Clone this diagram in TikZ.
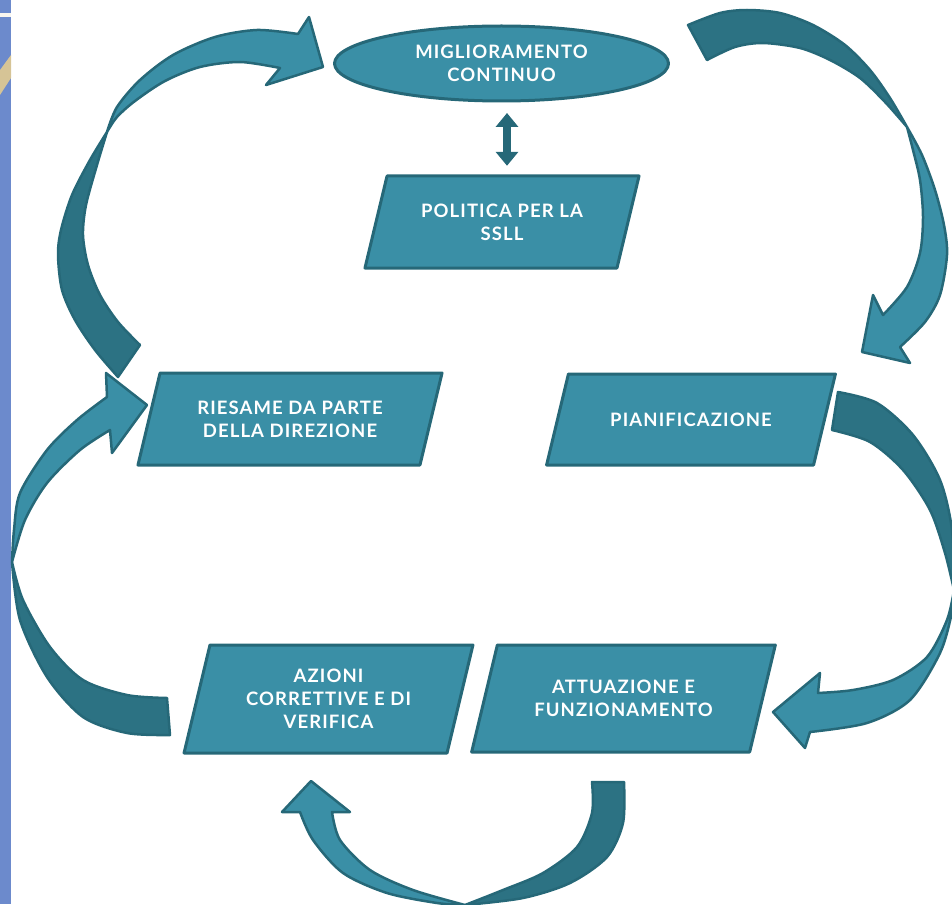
\documentclass[tikz,border=0pt]{standalone}
\usepackage{fontspec}
\setmainfont{Lato}
\newfontfamily\boxfont{Lato}[LetterSpace=6]
\usetikzlibrary{shapes.geometric,arrows.meta}

\definecolor{tealfill}{RGB}{58,143,166}
\definecolor{tealback}{RGB}{44,114,131}
\definecolor{tealline}{RGB}{38,104,120}
\definecolor{stripblue}{RGB}{108,138,204}
\definecolor{stripsand}{RGB}{214,196,150}

\begin{document}
\begin{tikzpicture}[x=1pt, y=-1pt,
    arrowfront/.style={fill=tealfill, draw=tealline, line width=2.5pt, line join=round},
    arrowback/.style={fill=tealback, draw=tealline, line width=2.5pt, line join=round},
    boxfill/.style={fill=tealfill, draw=tealline, line width=3pt, line join=round},
    boxtext/.style={text=white, font=\boxfont\bfseries\fontsize{18.5}{23}\selectfont, align=center, inner sep=0pt}]
    \useasboundingbox (0,0) rectangle (952,904);
    \clip (0,0) rectangle (952,904);

    % bordo a sinistra
    \fill[stripblue] (0,0) rectangle (11,904);
    \fill[white!85!stripsand] (0,13) rectangle (11,17);
    \fill[stripsand] (0,70) -- (11,55) -- (11,78) -- (0,95) -- cycle;

    % freccia in alto a sinistra
    \filldraw[arrowback] plot[smooth] coordinates {(118,377) (95,350) (75,320) (62,290) (58,255) (61,230) (72,195) (90,160) (107,132)}
        -- plot[smooth] coordinates {(107,132) (97,165) (86,205) (83,235) (88,265) (100,295) (118,322) (140,345)} -- cycle;
    \filldraw[arrowfront] plot[smooth] coordinates {(107,132) (117,107) (140,80) (173,55) (215,37) (257,30) (298,34)}
        -- (309,17) -- (323,67) -- (266,85) -- (280,68)
        -- plot[smooth] coordinates {(280,68) (240,62) (200,67) (165,81) (135,101) (117,117) (107,132)} -- cycle;

    % freccia in alto a destra
    \filldraw[arrowback] plot[smooth] coordinates {(688,25) (720,13) (747,10) (780,13) (813,25) (845,45) (870,70) (890,98) (907,127)}
        -- plot[smooth] coordinates {(907,127) (885,102) (860,78) (830,60) (800,48) (763,43) (735,47) (707,60)} -- cycle;
    \filldraw[arrowfront] plot[smooth] coordinates {(907,127) (922,155) (935,190) (944,225) (947,255) (940,295) (925,322) (900,347)}
        -- (910,363) -- (862,352) -- (873,295) -- (883,315)
        -- plot[smooth] coordinates {(883,315) (907,287) (920,253) (923,217) (920,180) (913,150) (907,127)} -- cycle;

    % freccia a destra
    \filldraw[arrowback] plot[smooth] coordinates {(838,392) (877,403) (913,435) (940,480) (952,530) (954,590)}
        -- plot[smooth] coordinates {(954,590) (945,553) (930,510) (903,470) (870,442) (832,430)} -- cycle;
    \filldraw[arrowfront] plot[smooth] coordinates {(954,590) (952,612) (940,653) (910,700) (867,723) (810,732)}
        -- (805,748) -- (773,712) -- (820,673) -- (818,693)
        -- plot[smooth] coordinates {(818,693) (853,690) (893,680) (927,657) (947,620) (954,590)} -- cycle;

    % freccia in basso
    \filldraw[arrowback] plot[smooth] coordinates {(624,782) (623,823) (607,857) (570,883) (523,898) (465,905)}
        -- plot[smooth] coordinates {(465,905) (503,890) (543,873) (577,847) (592,813) (592,782)} -- cycle;
    \filldraw[arrowfront] plot[smooth] coordinates {(465,905) (437,903) (387,893) (343,873) (313,840) (300,812)}
        -- (282,812) -- (311,781) -- (350,812) -- (332,812)
        -- plot[smooth] coordinates {(332,812) (340,840) (370,870) (413,890) (465,905)} -- cycle;

    % freccia a sinistra
    \filldraw[arrowback] plot[smooth] coordinates {(170,735) (127,733) (83,717) (47,677) (20,620) (12,562)}
        -- plot[smooth] coordinates {(12,562) (23,600) (50,647) (83,680) (127,695) (167,698)} -- cycle;
    \filldraw[arrowfront] plot[smooth] coordinates {(12,562) (14,530) (20,493) (47,450) (77,420) (107,397)}
        -- (106,373) -- (147,405) -- (112,453) -- (110,430)
        -- plot[smooth] coordinates {(110,430) (80,450) (47,483) (25,520) (12,562)} -- cycle;

    % nodi
    \node[ellipse, boxfill, boxtext, minimum width=334pt, minimum height=75pt] (mig) at (501.5,63.5) {MIGLIORAMENTO\\CONTINUO};

    \foreach \n/\x/\y/\w/\h/\t in {
        pol/502/222/252/92/POLITICA PER LA\\SSLL,
        ries/290/419/282/92/RIESAME DA PARTE\\DELLA DIREZIONE,
        pian/691/419.5/267/91/PIANIFICAZIONE,
        az/328.5/699/263/108/AZIONI\\CORRETTIVE E DI\\VERIFICA,
        att/623.5/698.5/278/107/ATTUAZIONE E\\FUNZIONAMENTO}
    {
        \pgfmathsetmacro\dx{0.24*\h}
        \filldraw[boxfill] ({\x-\w/2+\dx/2},{\y-\h/2}) -- ({\x+\w/2+\dx/2},{\y-\h/2})
            -- ({\x+\w/2-\dx/2},{\y+\h/2}) -- ({\x-\w/2-\dx/2},{\y+\h/2}) -- cycle;
        \node[boxtext, minimum height=\h pt] (\n) at (\x,\y) {\t};
    }

    % doppia freccia
    \draw[tealline, line width=8pt, {Triangle[width=22pt,length=14pt]}-{Triangle[width=22pt,length=14pt]}]
        ([xshift=5.5pt,yshift=-10.5pt]mig.south) -- ([xshift=5pt,yshift=10pt]pol.north);
\end{tikzpicture}
\end{document}
